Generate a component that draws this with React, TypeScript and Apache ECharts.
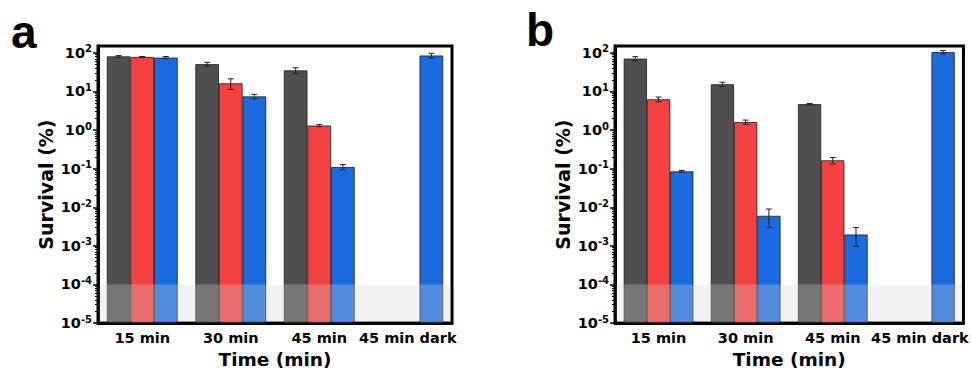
import React, { useEffect, useRef } from "react";
import * as echarts from "echarts";

// ---------- data ----------
const categories = ["15 min", "30 min", "45 min", "45 min dark"];
const majorExponents = [-5, -4, -3, -2, -1, 0, 1, 2];
const AXIS_MIN_EXP = -5; // 10^-5 is the floor of the y axis
const AXIS_MAX = 150; // top of the plot frame (%)
const detectionLimit = 1e-4; // grey band 10^-5 .. 10^-4

// panel a
const aDark = [80.7, 50.7, 35, null];
const aDarkErr = [4, 6, 6, null];
const aRed = [78, 16.2, 1.3, null];
const aRedErr = [2, 5, 0.08, null];
const aBlue = [75, 7.4, 0.11, 85];
const aBlueErr = [5, 1, 0.017, 12];

// panel b
const bDark = [70.5, 15.3, 4.67, null];
const bDarkErr = [9, 2, 0.2, null];
const bRed = [6.25, 1.61, 0.164, null];
const bRedErr = [0.9, 0.2, 0.03, null];
const bBlue = [0.085, 0.006, 0.00197, 104];
const bBlueErr = [0.005, 0.003, 0.001, 10];

const colors = ["#4f4f4f", "#f44141", "#1a6be0"];
const FONT = "DejaVu Sans";

const toAxis = (v: number) => Math.log10(v) - AXIS_MIN_EXP;

const majorVals = majorExponents.map((e) => e - AXIS_MIN_EXP);
const minorVals: number[] = [];
for (let n = 0; n < majorExponents.length - 1; n++) {
  for (let k = 2; k <= 9; k++) minorVals.push(n + Math.log10(k));
}

function buildPanel(
  p: number,
  series: { vals: (number | null)[]; errs: (number | null)[] }[]
) {
  const out: any[] = [];
  const yMain = p * 2;
  series.forEach((s, si) => {
    out.push({
      type: "bar",
      xAxisIndex: p,
      yAxisIndex: yMain,
      data: s.vals.map((v) => (v == null ? "-" : toAxis(v))),
      barGap: "0%",
      barCategoryGap: "20%",
      itemStyle: { color: colors[si], borderColor: "#1a1a1a", borderWidth: 0.8 },
      z: 2,
    });
  });
  series.forEach((s, si) => {
    const data: number[][] = [];
    s.vals.forEach((v, i) => {
      const e = s.errs[i];
      if (v == null || e == null) return;
      data.push([i, toAxis(v + e), toAxis(Math.max(v - e, 1e-6))]);
    });
    out.push({
      type: "custom",
      xAxisIndex: p,
      yAxisIndex: yMain,
      z: 4,
      data,
      renderItem: (params: any, api: any) => {
        const i = api.value(0);
        const hi = api.value(1);
        const lo = api.value(2);
        const bandW = api.size([1, 0])[0];
        const barW = (bandW * 0.8) / 3;
        const cx = api.coord([i, 0])[0] + (si - 1) * barW;
        const yHi = api.coord([i, hi])[1];
        const yLo = api.coord([i, lo])[1];
        const cap = 3;
        const style = { stroke: "#222", lineWidth: 1 };
        return {
          type: "group",
          children: [
            { type: "line", shape: { x1: cx, y1: yHi, x2: cx, y2: yLo }, style },
            { type: "line", shape: { x1: cx - cap, y1: yHi, x2: cx + cap, y2: yHi }, style },
            { type: "line", shape: { x1: cx - cap, y1: yLo, x2: cx + cap, y2: yLo }, style },
          ],
        };
      },
    });
  });
  // detection-limit band
  out.push({
    type: "custom",
    xAxisIndex: p,
    yAxisIndex: yMain,
    z: 5,
    data: [[0, toAxis(detectionLimit)]],
    renderItem: (params: any, api: any) => {
      const cs = params.coordSys;
      const yTop = api.coord([0, api.value(1)])[1];
      const yBot = api.coord([0, 0])[1];
      return {
        type: "rect",
        shape: { x: cs.x + 1.5, y: yTop, width: cs.width - 3, height: yBot - yTop - 1.5 },
        style: { fill: "rgba(211,211,211,0.3)" },
      };
    },
  });
  return out;
}

export default function App() {
  const ref = useRef<HTMLDivElement>(null);
  useEffect(() => {
    if (!ref.current) return;
    const chart = echarts.init(ref.current, undefined, { renderer: "svg" });
    const gridBase = {
      top: 46,
      width: 354,
      height: 284,
      show: true,
      borderColor: "#000",
      borderWidth: 3,
      backgroundColor: "#fff",
    };
    const xAxis = (gi: number) => ({
      type: "category",
      gridIndex: gi,
      data: categories,
      axisLine: { lineStyle: { color: "#000", width: 3 } },
      axisTick: { show: false },
      axisLabel: {
        interval: 0,
        color: "#000",
        fontSize: 14.5,
        fontWeight: "bold",
        fontFamily: FONT,
        margin: 7,
      },
      name: "Time (min)",
      nameLocation: "middle",
      nameGap: 23,
      nameTextStyle: { color: "#000", fontSize: 18.5, fontWeight: "bold", fontFamily: FONT },
    });
    const yMain = (gi: number) => ({
      type: "value",
      gridIndex: gi,
      position: "left",
      min: 0,
      max: toAxis(AXIS_MAX),
      interval: 1,
      axisLine: { show: true, lineStyle: { color: "#000", width: 3 } },
      axisTick: {
        show: true,
        length: 5,
        customValues: majorVals,
        lineStyle: { color: "#000", width: 1.5 },
      },
      splitLine: { show: false },
      axisLabel: {
        customValues: majorVals,
        margin: 6,
        color: "#000",
        formatter: (v: number) => {
          if (Math.abs(v - Math.round(v)) > 1e-6) return "";
          const e = Math.round(v) + AXIS_MIN_EXP;
          return `{b|10}{s|${e}}`;
        },
        rich: {
          b: { fontSize: 14.5, fontWeight: "bold", fontFamily: FONT, color: "#000" },
          s: {
            fontSize: 10,
            fontWeight: "bold",
            fontFamily: FONT,
            color: "#000",
            verticalAlign: "bottom",
            padding: [0, 0, 8, 0],
          },
        },
      },
      name: "Survival (%)",
      nameLocation: "middle",
      nameGap: 43,
      nameRotate: 90,
      nameTextStyle: { color: "#000", fontSize: 19, fontWeight: "bold", fontFamily: FONT },
    });
    const yMinor = (gi: number) => ({
      type: "value",
      gridIndex: gi,
      position: "left",
      min: 0,
      max: toAxis(AXIS_MAX),
      axisLine: { show: false },
      axisLabel: { show: false },
      splitLine: { show: false },
      axisTick: {
        show: true,
        length: 3,
        customValues: minorVals,
        lineStyle: { color: "#000", width: 1 },
      },
    });
    chart.setOption({
      animation: false,
      backgroundColor: "#fff",
      grid: [
        { ...gridBase, left: 98 },
        { ...gridBase, left: 615 },
      ],
      xAxis: [xAxis(0), xAxis(1)],
      yAxis: [yMain(0), yMinor(0), yMain(1), yMinor(1)],
      series: [
        ...buildPanel(0, [
          { vals: aDark, errs: aDarkErr },
          { vals: aRed, errs: aRedErr },
          { vals: aBlue, errs: aBlueErr },
        ]),
        ...buildPanel(1, [
          { vals: bDark, errs: bDarkErr },
          { vals: bRed, errs: bRedErr },
          { vals: bBlue, errs: bBlueErr },
        ]),
      ],
      graphic: [
        {
          type: "text",
          left: 11,
          top: 9,
          style: { text: "a", fontSize: 46, fontWeight: "bold", fontFamily: "Liberation Sans", fill: "#000" },
        },
        {
          type: "text",
          left: 526,
          top: 7,
          style: { text: "b", fontSize: 46, fontWeight: "bold", fontFamily: "Liberation Sans", fill: "#000" },
        },
      ],
    });
    return () => chart.dispose();
  }, []);
  return (
    <div
      ref={ref}
      style={{ position: "fixed", left: 0, top: 0, width: 971, height: 374 }}
    />
  );
}
